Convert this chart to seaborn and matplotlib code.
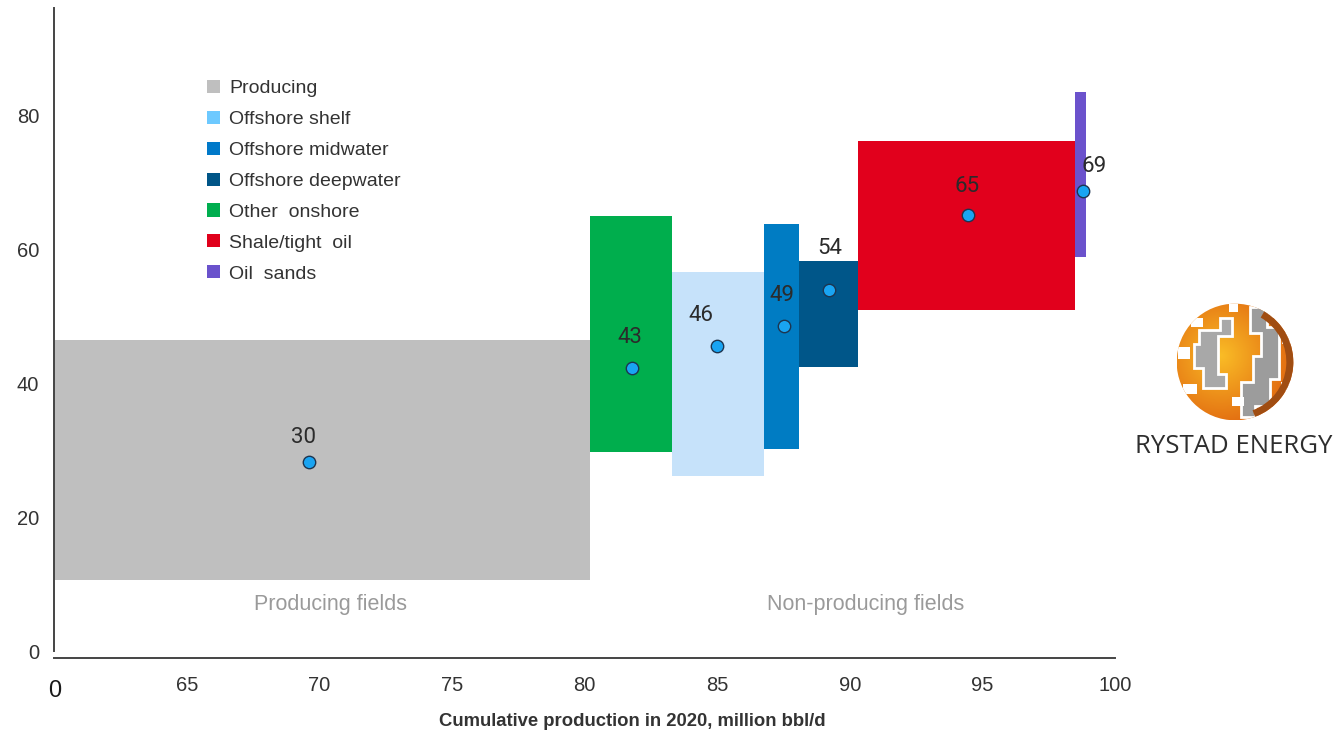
import numpy as np
import pandas as pd
import matplotlib
matplotlib.use("Agg")
import matplotlib.pyplot as plt
import matplotlib.transforms as mtransforms
import seaborn as sns
from matplotlib.patches import Patch, Circle, Polygon, Rectangle, Wedge

# ---------------- data ----------------
segments = ["Producing", "Other onshore", "Offshore shelf", "Offshore midwater",
            "Offshore deepwater", "Shale/tight oil", "Oil sands"]
cum_start = [0.0, 80.2, 83.3, 86.75, 88.1, 90.3, 98.5]
cum_end = [80.2, 83.3, 86.75, 88.1, 90.3, 98.5, 98.9]
price_low = [10.6, 29.7, 26.1, 30.2, 42.5, 51.0, 58.8]
price_high = [46.4, 64.9, 56.6, 63.8, 58.2, 76.1, 83.5]
avg_x = [69.6, 81.8, 85.0, 87.5, 89.2, 94.45, 98.8]
avg_y = [28.3, 42.3, 45.5, 48.6, 53.9, 65.05, 68.7]
avg_labels = ["30", "43", "46", "49", "54", "65", "69"]

legend_names = ["Producing", "Offshore shelf", "Offshore midwater", "Offshore deepwater",
                "Other  onshore", "Shale/tight  oil", "Oil  sands"]
x_ticks = [60, 65, 70, 75, 80, 85, 90, 95, 100]
x_tick_labels = ["0", "65", "70", "75", "80", "85", "90", "95", "100"]
y_ticks = [0, 20, 40, 60, 80]
region_labels = ["Producing fields", "Non-producing fields"]
region_x = [70.4, 90.6]
region_y = [7.0, 7.0]

# ---------------- styles ----------------
bar_colors = ["#bfbfbf", "#00ae4d", "#c6e2fa", "#007cc3", "#005689", "#e1001c", "#6b52cc"]
legend_colors = ["#bfbfbf", "#6dc9ff", "#0079c9", "#005587", "#00ae4f", "#e0001b", "#6a52cc"]
label_offsets = [(-5, 24), (-3, 30), (-16, 31), (-2, 30), (1, 42), (-1, 29), (11, 24)]

sns.set_style("white")
plt.rcParams["font.family"] = ["Liberation Sans", "DejaVu Sans"]

fig = plt.figure(figsize=(13.36, 7.31), dpi=100)
ax = fig.add_axes([54.4 / 1336, 73 / 731, (1115 - 54.4) / 1336, 650 / 731])

df = pd.DataFrame({"segment": segments, "x0": cum_start, "x1": cum_end,
                   "lo": price_low, "hi": price_high})
ax.bar(df["x0"], df["hi"] - df["lo"], width=df["x1"] - df["x0"], bottom=df["lo"],
       align="edge", color=bar_colors, linewidth=0, zorder=2)

pts = pd.DataFrame({"x": avg_x, "y": avg_y, "label": avg_labels})
sns.scatterplot(data=pts, x="x", y="y", ax=ax, s=80, color="#19a4f2",
                edgecolor="#1d3550", linewidth=1.0, zorder=4, legend=False)
for (xv, yv, lab), (dx, dy) in zip(zip(avg_x, avg_y, avg_labels), label_offsets):
    ax.annotate(lab, (xv, yv), xytext=(dx, dy), textcoords="offset pixels",
                ha="center", va="center", fontsize=16, color="#2b2b2b",
                family=["Roboto", "DejaVu Sans"], zorder=5)

for t, xv, yv in zip(region_labels, region_x, region_y):
    ax.text(xv, yv, t, ha="center", va="center", fontsize=15.5, color="#9a9a9a", zorder=5)

ax.set_xlim(60, 100)
ax.set_ylim(-1, 96)
ax.set_xticks(x_ticks)
ax.set_xticklabels(x_tick_labels)
ax.set_yticks(y_ticks)
ax.set_xlabel("")
ax.set_ylabel("")
for s in ["top", "right"]:
    ax.spines[s].set_visible(False)
ax.spines["left"].set_bounds(0, 96)
for s in ["left", "bottom"]:
    ax.spines[s].set_color("#444444")
    ax.spines[s].set_linewidth(1.4)
ax.tick_params(axis="both", which="both", direction="out", width=1.2,
               color="#444444", labelsize=14.5, labelcolor="#333333")
ax.tick_params(axis="x", length=4, pad=9)
ax.tick_params(axis="y", length=5, pad=6)
lbl0 = ax.get_xticklabels()[0]
lbl0.set_fontsize(17)
lbl0.set_color("#1a1a1a")
lbl0.set_transform(lbl0.get_transform() +
                   mtransforms.ScaledTranslation(0, -4 / 100, fig.dpi_scale_trans))
ax.grid(False)

fig.text(632 / 1336, 1 - 721 / 731, "Cumulative production in 2020, million bbl/d",
         ha="center", va="center", fontsize=13.3, fontweight="bold", color="#333333")

handles = [Patch(facecolor=c, edgecolor="none") for c in legend_colors]
leg = fig.legend(handles, legend_names, loc="upper left",
                 bbox_to_anchor=(207 / 1336, 1 - 80 / 731), frameon=False,
                 fontsize=14, handlelength=0.67, handleheight=0.67, handletextpad=0.46,
                 labelspacing=0.69, borderpad=0, borderaxespad=0)
for t in leg.get_texts():
    t.set_color("#333333")

# ---------------- logo ----------------
lax = fig.add_axes([1165 / 1336, (731 - 432) / 731, 140 / 1336, 140 / 731])
lax.set_xlim(-1.2, 1.2)
lax.set_ylim(-1.2, 1.2)
lax.set_axis_off()
clip = Circle((0, 0), 1.0, transform=lax.transData)
gx, gy = np.meshgrid(np.linspace(-1, 1, 200), np.linspace(-1, 1, 200))
d = np.sqrt((gx + 0.25) ** 2 + (gy - 0.1) ** 2)
d = np.clip(d / 1.3, 0, 1)
c0 = np.array([0.98, 0.74, 0.15])
c1 = np.array([0.88, 0.40, 0.06])
img = c0[None, None, :] * (1 - d[..., None]) + c1[None, None, :] * d[..., None]
im = lax.imshow(img, extent=(-1, 1, -1, 1), origin="lower", zorder=1)
im.set_clip_path(clip)
gray_left = [(-0.62, 0.55), (-0.25, 0.55), (-0.25, 0.75), (-0.05, 0.75), (-0.05, 0.45),
             (-0.3, 0.45), (-0.3, -0.2), (-0.15, -0.2), (-0.15, -0.45), (-0.55, -0.45),
             (-0.55, -0.1), (-0.7, -0.1), (-0.7, 0.3), (-0.62, 0.3)]
gray_right = [(0.25, 0.95), (0.55, 0.95), (0.55, 0.6), (0.75, 0.6), (0.75, -0.3),
              (0.6, -0.3), (0.6, -0.75), (0.35, -0.75), (0.35, -0.95), (0.1, -0.95),
              (0.1, -0.35), (0.3, -0.35), (0.3, 0.1), (0.45, 0.1), (0.45, 0.5), (0.25, 0.5)]
for poly, col in [(gray_left, "#a8a8a8"), (gray_right, "#9c9c9c")]:
    p = Polygon(poly, closed=True, facecolor=col, edgecolor="white", linewidth=2.0, zorder=2)
    lax.add_patch(p)
    p.set_clip_path(clip)
whites = [(-0.98, 0.05, 0.2, 0.2), (-0.9, -0.55, 0.25, 0.18), (-0.75, 0.6, 0.2, 0.15),
          (0.8, 0.3, 0.25, 0.2), (0.78, -0.5, 0.3, 0.15), (0.6, 0.75, 0.2, 0.12),
          (-0.05, -0.75, 0.2, 0.15), (-0.1, 0.85, 0.15, 0.2)]
for (x0, y0, w, h) in whites:
    r = Rectangle((x0, y0), w, h, facecolor="white", edgecolor="none", zorder=3)
    lax.add_patch(r)
    r.set_clip_path(clip)
wdg = Wedge((0, 0), 1.0, -70, 60, width=0.12, facecolor="#a04d12", edgecolor="none", zorder=3)
lax.add_patch(wdg)

fig.text(1234 / 1336, 1 - 447 / 731, "RYSTAD ENERGY", ha="center", va="center",
         fontsize=18.5, color="#2e2e2e", family=["Open Sans", "DejaVu Sans"])

fig.savefig("out.png", dpi=100)
